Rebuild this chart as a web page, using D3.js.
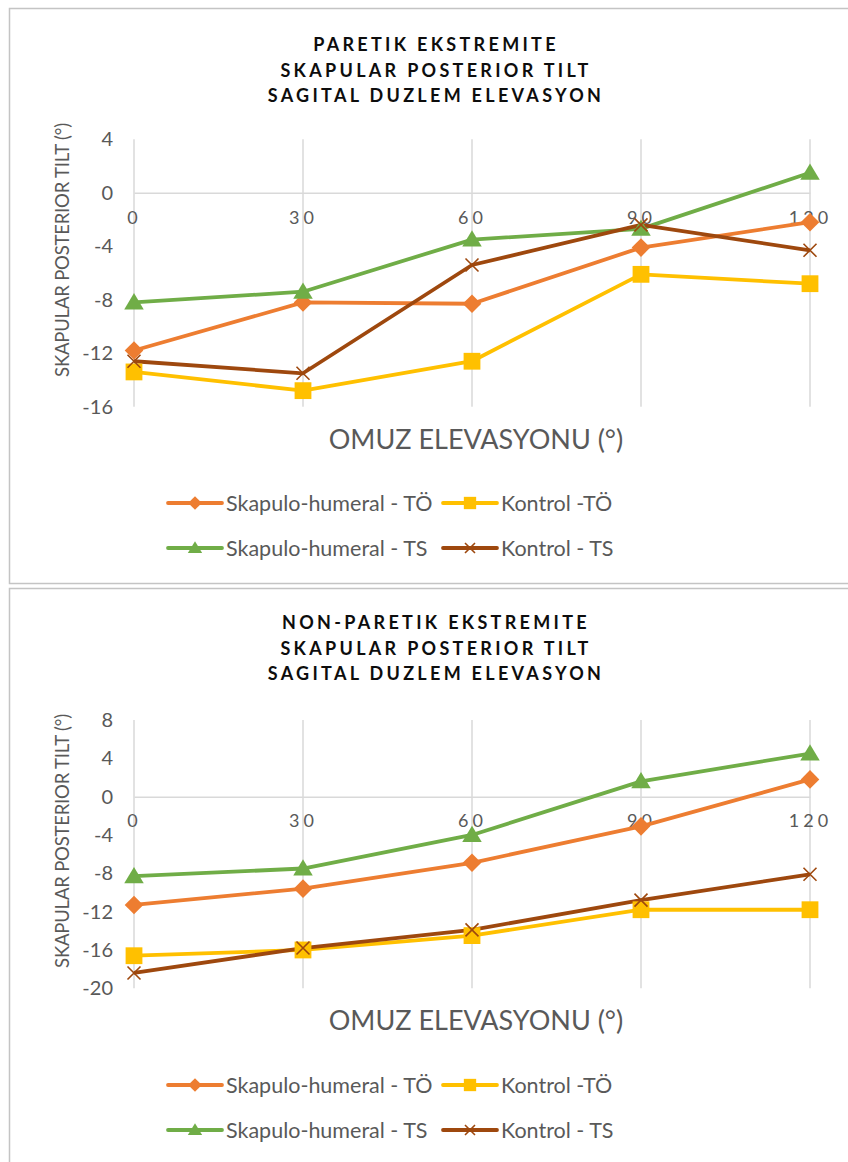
<!DOCTYPE html>
<html>
<head>
<meta charset="utf-8">
<script src="https://cdn.jsdelivr.net/npm/d3@7"></script>
<style>
  html, body { margin: 0; padding: 0; background: #fff; }
  svg { display: block; }
</style>
</head>
<body>
<svg id="chart" width="848" height="1162"></svg>
<script>
// Shoulder elevation angles (°) on the category axis
const categories = ["0", "30", "60", "90", "120"];

// Legend / series names
const seriesNames = ["Skapulo-humeral - TÖ", "Kontrol -TÖ", "Skapulo-humeral - TS", "Kontrol - TS"];

// Paretic extremity: scapular posterior tilt (°)
const pareticShTO = [-11.8, -8.2, -8.3, -4.1, -2.2];
const pareticKonTO = [-13.4, -14.8, -12.6, -6.1, -6.8];
const pareticShTS = [-8.2, -7.4, -3.5, -2.7, 1.5];
const pareticKonTS = [-12.6, -13.5, -5.4, -2.4, -4.3];

// Non-paretic extremity: scapular posterior tilt (°)
const nonPareticShTO = [-11.3, -9.6, -6.9, -3.1, 1.8];
const nonPareticKonTO = [-16.6, -16.0, -14.5, -11.8, -11.8];
const nonPareticShTS = [-8.3, -7.5, -4.0, 1.6, 4.5];
const nonPareticKonTS = [-18.4, -15.8, -13.9, -10.8, -8.1];

// Y tick labels
const pareticTicks = [4, 0, -4, -8, -12, -16];
const nonPareticTicks = [8, 4, 0, -4, -8, -12, -16, -20];

const titlesParetic = ["PARETIK EKSTREMITE", "SKAPULAR POSTERIOR TILT", "SAGITAL DUZLEM ELEVASYON"];
const titlesNonParetic = ["NON-PARETIK EKSTREMITE", "SKAPULAR POSTERIOR TILT", "SAGITAL DUZLEM ELEVASYON"];

const colors = ["#ED7D31", "#FFC000", "#70AD47", "#9E480E"];
const markers = ["diamond", "square", "triangle", "cross"];

const svg = d3.select("#chart");
const font = "Lato, 'Open Sans', sans-serif";

function drawMarker(g, type, x, y, color, size) {
  if (type === "diamond") {
    const s = size * 0.62;
    g.append("path").attr("d", `M${x},${y - s}L${x + s},${y}L${x},${y + s}L${x - s},${y}Z`).attr("fill", color);
  } else if (type === "square") {
    const s = size * 0.56;
    g.append("rect").attr("x", x - s).attr("y", y - s).attr("width", 2 * s).attr("height", 2 * s).attr("fill", color);
  } else if (type === "triangle") {
    const s = size * 0.62;
    g.append("path").attr("d", `M${x},${y - s}L${x + s * 1.05},${y + s * 0.75}L${x - s * 1.05},${y + s * 0.75}Z`).attr("fill", color);
  } else {
    const s = size * 0.5;
    g.append("path").attr("d", `M${x - s},${y - s}L${x + s},${y + s}M${x + s},${y - s}L${x - s},${y + s}`)
      .attr("stroke", color).attr("stroke-width", 1.6).attr("fill", "none");
  }
}

function drawPanel(opts) {
  const g = svg.append("g");
  // panel frame
  g.append("rect").attr("x", 9.5).attr("y", opts.frameTop + 0.5).attr("width", 860).attr("height", opts.frameH)
    .attr("fill", "#fff").attr("stroke", "#c4c4c4").attr("stroke-width", 1.5);

  // title
  opts.titles.forEach((t, i) => {
    g.append("text").attr("x", 436).attr("y", opts.titleY + i * 25.5)
      .attr("text-anchor", "middle").attr("font-family", font).attr("font-weight", 700)
      .attr("font-size", 18).attr("letter-spacing", 3.3).attr("fill", "#0d0d0d").text(t);
  });

  const x = d3.scalePoint().domain(categories).range([134, 810]);
  const y = d3.scaleLinear().domain(opts.domain).range([opts.plotBottom, opts.plotTop]);

  // vertical gridlines
  g.append("g").selectAll("line").data(categories).join("line")
    .attr("x1", d => x(d)).attr("x2", d => x(d))
    .attr("y1", y(opts.domain[1])).attr("y2", y(opts.domain[0]))
    .attr("stroke", "#d9d9d9").attr("stroke-width", 1.5);

  // horizontal axis at zero
  const xAxis = d3.axisBottom(x).tickSize(0).tickPadding(18);
  const ax = g.append("g").attr("transform", `translate(0,${y(0)})`).call(xAxis);
  ax.select(".domain").attr("stroke", "#d9d9d9").attr("stroke-width", 1.5);
  ax.selectAll("text").attr("font-family", font).attr("font-size", 18).attr("fill", "#595959")
    .attr("letter-spacing", 4);

  // vertical axis labels
  const yAxis = d3.axisLeft(y).tickValues(opts.ticks).tickSize(0).tickPadding(0).tickFormat(d3.format("d"));
  const ay = g.append("g").attr("transform", "translate(113,0)").call(yAxis);
  ay.select(".domain").remove();
  ay.selectAll("text").attr("font-family", font).attr("font-size", 20).attr("fill", "#595959")
    .text(d => d < 0 ? "-" + Math.abs(d) : d);

  // axis titles
  g.append("text").attr("transform", `translate(63,${opts.yTitleMid}) rotate(-90)`)
    .attr("text-anchor", "middle").attr("dy", "0.35em").attr("font-family", font).attr("font-size", 18.5)
    .attr("fill", "#595959").attr("letter-spacing", -0.2)
    .text("SKAPULAR POSTERIOR TILT (°)");
  g.append("text").attr("x", 476).attr("y", opts.xTitleY).attr("text-anchor", "middle")
    .attr("font-family", font).attr("font-size", 27).attr("fill", "#595959").text("OMUZ ELEVASYONU (°)");

  // series
  const line = d3.line().x((d, i) => x(categories[i])).y(d => y(d));
  opts.series.forEach((vals, si) => {
    g.append("path").datum(vals).attr("d", line).attr("fill", "none")
      .attr("stroke", colors[si]).attr("stroke-width", 3.8).attr("stroke-linejoin", "round");
  });
  opts.series.forEach((vals, si) => {
    const mg = g.append("g");
    vals.forEach((v, i) => drawMarker(mg, markers[si], x(categories[i]), y(v), colors[si], markers[si] === "cross" ? 13 : 15));
  });

  // legend
  const legendPos = [[168, opts.legendY], [443, opts.legendY], [168, opts.legendY + 45], [443, opts.legendY + 45]];
  seriesNames.forEach((name, si) => {
    const [lx, ly] = legendPos[si];
    const lg = g.append("g");
    lg.append("line").attr("x1", lx).attr("x2", lx + 54).attr("y1", ly).attr("y2", ly)
      .attr("stroke", colors[si]).attr("stroke-width", 3.8).attr("stroke-linecap", "round");
    drawMarker(lg, markers[si], lx + 27, ly, colors[si], markers[si] === "cross" ? 10 : 11);
    lg.append("text").attr("x", lx + 58).attr("y", ly).attr("dy", "0.36em")
      .attr("font-family", font).attr("font-size", 21.5).attr("fill", "#595959").text(name);
  });
}

drawPanel({
  frameTop: 8, frameH: 575, titles: titlesParetic, titleY: 51,
  domain: [-16, 4], ticks: pareticTicks, plotTop: 139.3, plotBottom: 406.7,
  yTitleMid: 250, xTitleY: 449, legendY: 503,
  series: [pareticShTO, pareticKonTO, pareticShTS, pareticKonTS]
});

drawPanel({
  frameTop: 588, frameH: 600, titles: titlesNonParetic, titleY: 629,
  domain: [-20, 8], ticks: nonPareticTicks, plotTop: 720, plotBottom: 988.3,
  yTitleMid: 841, xTitleY: 1030, legendY: 1085,
  series: [nonPareticShTO, nonPareticKonTO, nonPareticShTS, nonPareticKonTS]
});
</script>
</body>
</html>
